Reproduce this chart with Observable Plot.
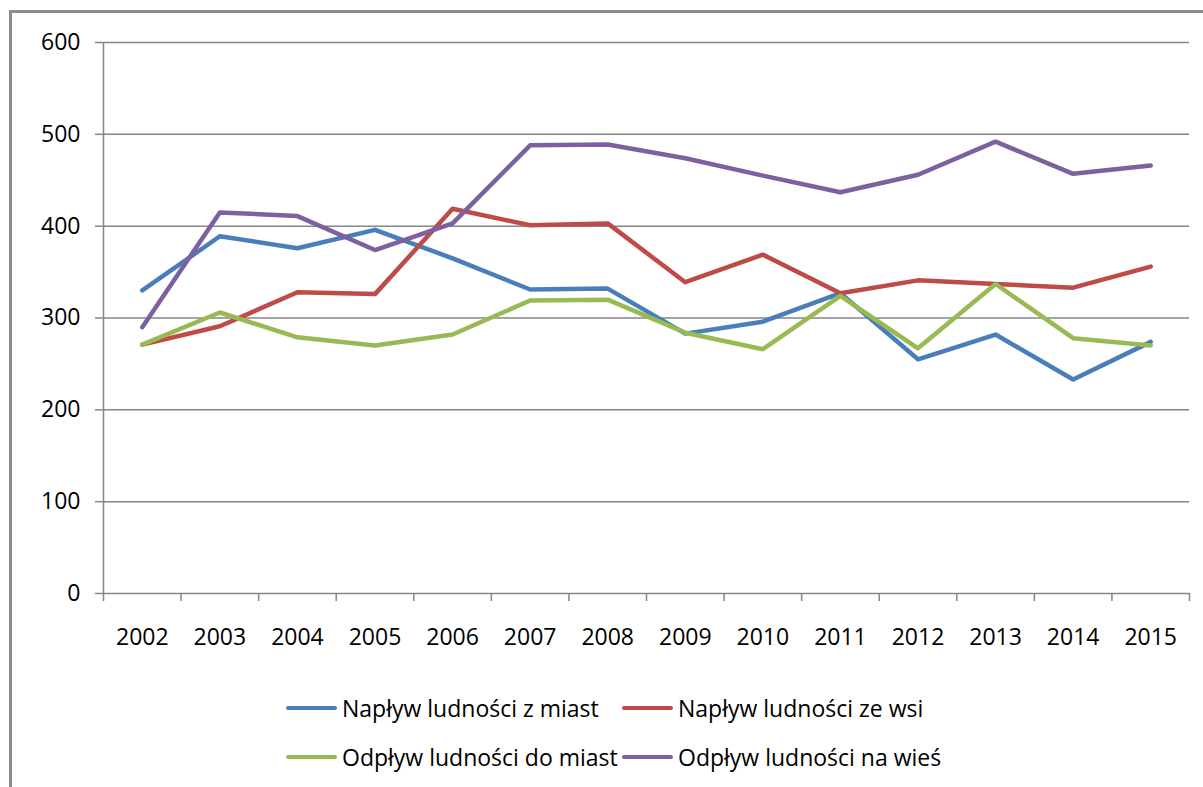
<!DOCTYPE html>
<html>
<head>
<meta charset="utf-8">
<script src="https://cdn.jsdelivr.net/npm/d3@7"></script>
<script src="https://cdn.jsdelivr.net/npm/@observablehq/plot@0.6"></script>
<style>
  html, body { margin: 0; padding: 0; background: #fff; overflow: hidden; }
  #wrap { position: relative; width: 1203px; height: 787px; font-family: 'Open Sans', sans-serif; }
  #frame { position: absolute; left: 9px; top: 10px; width: 1220px; height: 800px;
           border-left: 3px solid #8c8c8c; border-top: 3px solid #8c8c8c; pointer-events: none; }
  #chart { position: absolute; left: 0; top: 0; }
  .leg { position: absolute; display: flex; align-items: center; font-size: 23px; color: #000; white-space: nowrap; }
  .leg .sw { width: 51px; height: 4px; border-radius: 2px; margin-right: 5px; }
</style>
</head>
<body>
<div id="wrap">
  <div id="chart"></div>
  <div id="legend"></div>
  <div id="frame"></div>
</div>
<script>
const years = [2002, 2003, 2004, 2005, 2006, 2007, 2008, 2009, 2010, 2011, 2012, 2013, 2014, 2015];
const naplywZMiast   = [330, 389, 376, 396, 365, 331, 332, 283, 296, 327, 255, 282, 233, 274];
const naplywZeWsi    = [271, 291, 328, 326, 419, 401, 403, 339, 369, 327, 341, 337, 333, 356];
const odplywDoMiast  = [271, 306, 279, 270, 282, 319, 320, 284, 266, 324, 267, 337, 278, 270];
const odplywNaWies   = [290, 415, 411, 374, 403, 488, 489, 474, 455, 437, 456, 492, 457, 466];
const seriesNames = ["Napływ ludności z miast", "Napływ ludności ze wsi", "Odpływ ludności do miast", "Odpływ ludności na wieś"];
const seriesColors = ["#4a7ebb", "#be4b48", "#98b954", "#7d60a0"];
const yTicks = [0, 100, 200, 300, 400, 500, 600];

const allSeries = [naplywZMiast, naplywZeWsi, odplywDoMiast, odplywNaWies];
const data = [];
allSeries.forEach((vals, s) => vals.forEach((v, i) => data.push({i, year: years[i], value: v, series: seriesNames[s]})));
const idx = years.map((_, i) => i);
const bounds = d3.range(-0.5, years.length, 1);

const gridColor = "#868686";
const chart = Plot.plot({
  width: 1203,
  height: 680,
  marginLeft: 103,
  marginRight: 14,
  marginTop: 42,
  marginBottom: 87,
  style: {background: "transparent", fontFamily: "'Open Sans', sans-serif", fontSize: "23px", color: "#000", overflow: "visible"},
  x: {type: "linear", domain: [-0.5, years.length - 0.5]},
  y: {domain: [0, 600]},
  color: {domain: seriesNames, range: seriesColors},
  marks: [
    Plot.gridY(yTicks.filter(t => t > 0), {stroke: gridColor, strokeOpacity: 1, strokeWidth: 1.5}),
    Plot.axisY(yTicks, {tickSize: 8, tickPadding: 15, stroke: gridColor, strokeWidth: 1.5, label: null, fontSize: 23, fill: "#000"}),
    Plot.axisX(bounds, {tickSize: 8, tickFormat: () => "", stroke: gridColor, strokeWidth: 1.5, label: null}),
    Plot.axisX(idx, {tickSize: 0, tickPadding: 35, tickFormat: i => String(years[i]), label: null, fontSize: 23, fill: "#000"}),
    Plot.ruleY([0], {stroke: gridColor, strokeWidth: 1.5}),
    Plot.ruleX([-0.5], {stroke: gridColor, strokeWidth: 1.5}),
    Plot.line(data, {x: "i", y: "value", z: "series", stroke: "series", strokeWidth: 4.5, strokeLinejoin: "round", strokeLinecap: "round"})
  ]
});
document.getElementById("chart").appendChild(chart);

const legendPos = [[286, 708], [622, 708], [286, 757], [622, 757]];
const legend = document.getElementById("legend");
seriesNames.forEach((name, k) => {
  const el = document.createElement("div");
  el.className = "leg";
  el.style.left = legendPos[k][0] + "px";
  el.style.top = (legendPos[k][1] - 16) + "px";
  el.style.height = "32px";
  const sw = document.createElement("div");
  sw.className = "sw";
  sw.style.background = seriesColors[k];
  const tx = document.createElement("span");
  tx.textContent = name;
  el.appendChild(sw);
  el.appendChild(tx);
  legend.appendChild(el);
});
</script>
</body>
</html>
